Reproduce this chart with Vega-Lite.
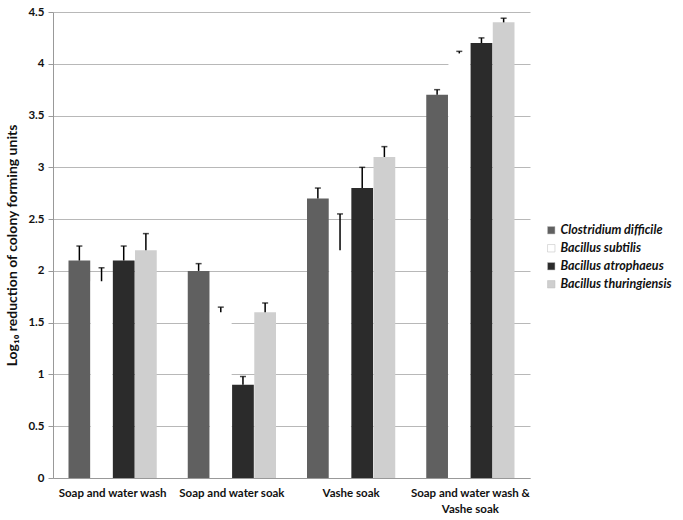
{
  "$schema": "https://vega.github.io/schema/vega-lite/v6.json",
  "width": 477,
  "height": 466,
  "autosize": {"type": "none"},
  "padding": {"left": 53, "top": 12, "right": 153, "bottom": 42},
  "background": "white",
  "config": {
    "view": {"stroke": null},
    "font": "Lato",
    "axis": {"labelFont": "Lato", "titleFont": "Lato"}
  },
  "data": {
    "values": [
      {"cat": "Soap and water wash", "sp": "Clostridium difficile", "v": 2.1, "u": 2.24},
      {"cat": "Soap and water wash", "sp": "Bacillus subtilis", "v": 1.9, "u": 2.03},
      {"cat": "Soap and water wash", "sp": "Bacillus  atrophaeus", "v": 2.1, "u": 2.24},
      {"cat": "Soap and water wash", "sp": "Bacillus thuringiensis", "v": 2.2, "u": 2.36},
      {"cat": "Soap and water soak", "sp": "Clostridium difficile", "v": 2.0, "u": 2.07},
      {"cat": "Soap and water soak", "sp": "Bacillus subtilis", "v": 1.6, "u": 1.65},
      {"cat": "Soap and water soak", "sp": "Bacillus  atrophaeus", "v": 0.9, "u": 0.98},
      {"cat": "Soap and water soak", "sp": "Bacillus thuringiensis", "v": 1.6, "u": 1.69},
      {"cat": "Vashe soak", "sp": "Clostridium difficile", "v": 2.7, "u": 2.8},
      {"cat": "Vashe soak", "sp": "Bacillus subtilis", "v": 2.2, "u": 2.55},
      {"cat": "Vashe soak", "sp": "Bacillus  atrophaeus", "v": 2.8, "u": 3.0},
      {"cat": "Vashe soak", "sp": "Bacillus thuringiensis", "v": 3.1, "u": 3.2},
      {"cat": "Soap and water wash & Vashe soak", "sp": "Clostridium difficile", "v": 3.7, "u": 3.75},
      {"cat": "Soap and water wash & Vashe soak", "sp": "Bacillus subtilis", "v": 4.1, "u": 4.12},
      {"cat": "Soap and water wash & Vashe soak", "sp": "Bacillus  atrophaeus", "v": 4.2, "u": 4.25},
      {"cat": "Soap and water wash & Vashe soak", "sp": "Bacillus thuringiensis", "v": 4.4, "u": 4.44}
    ]
  },
  "encoding": {
    "x": {
      "field": "cat",
      "type": "nominal",
      "sort": null,
      "scale": {"paddingInner": 0.26, "paddingOuter": 0.13},
      "axis": {
        "title": null,
        "labelAngle": 0,
        "labelFontSize": 11.5,
        "labelFontWeight": "bold",
        "labelColor": "#111",
        "labelPadding": 9,
        "ticks": false,
        "domainColor": "#999",
        "labelExpr": "datum.label == 'Soap and water wash & Vashe soak' ? ['Soap and water wash &', 'Vashe soak'] : datum.label",
        "labelLineHeight": 16
      }
    },
    "xOffset": {"field": "sp", "type": "nominal", "sort": null, "scale": {"paddingInner": 0.02}}
  },
  "layer": [
    {
      "mark": {"type": "bar"},
      "encoding": {
        "y": {
          "field": "v",
          "type": "quantitative",
          "scale": {"domain": [0, 4.5], "nice": false},
          "axis": {
            "title": "Log₁₀ reduction of colony forming units",
            "titleFontSize": 14,
            "titleFontWeight": "bold",
            "titleColor": "#111",
            "titlePadding": 8,
            "values": [0, 0.5, 1, 1.5, 2, 2.5, 3, 3.5, 4, 4.5],
            "labelExpr": "datum.value",
            "labelFontSize": 11.5,
            "labelFontWeight": "bold",
            "labelColor": "#111",
            "labelPadding": 4,
            "tickSize": 5,
            "tickColor": "#999",
            "domainColor": "#999",
            "gridColor": "#b8b8b8",
            "grid": true
          }
        },
        "color": {
          "field": "sp",
          "type": "nominal",
          "sort": null,
          "scale": {
            "domain": ["Clostridium difficile", "Bacillus subtilis", "Bacillus  atrophaeus", "Bacillus thuringiensis"],
            "range": ["#606060", "#ffffff", "#2b2b2b", "#cfcfcf"]
          },
          "legend": {
            "title": null,
            "orient": "none",
            "legendX": 492,
            "legendY": 212,
            "symbolType": "square",
            "symbolSize": 55,
            "symbolStrokeColor": "#bbb",
            "symbolStrokeWidth": 0.5,
            "labelFont": "Lato",
            "labelFontSize": 12.5,
            "labelFontWeight": "bold",
            "labelFontStyle": "italic",
            "labelColor": "#111",
            "labelLimit": 300,
            "rowPadding": 5,
            "labelOffset": 3
          }
        }
      }
    },
    {
      "mark": {"type": "rule", "color": "black", "strokeWidth": 1.5},
      "encoding": {
        "y": {"field": "v", "type": "quantitative"},
        "y2": {"field": "u"}
      }
    },
    {
      "mark": {"type": "tick", "color": "black", "thickness": 1.5, "size": 6},
      "encoding": {
        "y": {"field": "u", "type": "quantitative"}
      }
    }
  ]
}
